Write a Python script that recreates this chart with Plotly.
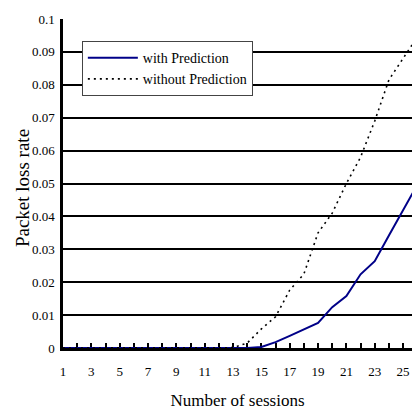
import plotly.graph_objects as go

sessions = list(range(1, 27))
with_prediction = [0, 0, 0, 0, 0, 0, 0, 0, 0, 0, 0, 0, 0, 0, 0.0003, 0.0018, 0.0037,
                   0.0057, 0.0076, 0.0124, 0.0158, 0.0224, 0.0264, 0.0342, 0.0419, 0.0496]
without_prediction = [0, 0, 0, 0, 0, 0, 0, 0, 0, 0, 0, 0, 0.0001, 0.0015, 0.0058, 0.0095,
                      0.0176, 0.0225, 0.0350, 0.0410, 0.0500, 0.0580, 0.0690, 0.0815, 0.0880, 0.0945]
x_tick_vals = list(range(1, 27))
x_tick_text = [str(v) if v % 2 == 1 else "" for v in x_tick_vals]
y_tick_vals = [0, 0.01, 0.02, 0.03, 0.04, 0.05, 0.06, 0.07, 0.08, 0.09, 0.1]
y_tick_text = ["0", "0.01", "0.02", "0.03", "0.04", "0.05", "0.06", "0.07", "0.08", "0.09", "0.1"]

FONT = "Liberation Serif, Times New Roman, serif"

fig = go.Figure()
fig.add_trace(go.Scatter(x=sessions, y=with_prediction, mode="lines", name="with Prediction",
                         legendgroup="a",
                         line=dict(color="#000088", width=2)))
fig.add_trace(go.Scatter(x=sessions, y=without_prediction, mode="lines", name="without Prediction",
                         legendgroup="b",
                         line=dict(color="#000000", width=1.6, dash="2px,4px")))

fig.update_layout(
    width=412, height=417,
    margin=dict(l=63, r=0, t=19, b=69, autoexpand=False),
    paper_bgcolor="white", plot_bgcolor="white",
    font=dict(family=FONT, color="black", size=12),
    showlegend=True,
    legend=dict(x=0.054, y=0.933, xanchor="left", yanchor="top",
                bgcolor="white", bordercolor="#444444", borderwidth=1,
                font=dict(family=FONT, size=14), itemwidth=50,
                tracegroupgap=0),
    xaxis=dict(range=[1, 25.63], tickmode="array", tickvals=x_tick_vals, ticktext=x_tick_text,
               ticks="inside", ticklen=5, tickwidth=1.5, tickcolor="black",
               showline=True, linecolor="black", linewidth=2.5, showgrid=False,
               zeroline=False, ticklabelstandoff=10, layer="below traces", automargin=False,
               tickfont=dict(family=FONT, size=13),
               title=dict(text="Number of sessions", font=dict(family=FONT, size=17), standoff=16)),
    yaxis=dict(range=[0, 0.1], tickmode="array", tickvals=y_tick_vals, ticktext=y_tick_text,
               ticks="", showline=True, linecolor="black", linewidth=2.5,
               showgrid=True, gridcolor="black", gridwidth=1.6, zeroline=False,
               layer="below traces", ticklabelstandoff=3, automargin=False,
               tickfont=dict(family=FONT, size=13)),
    annotations=[dict(text="Packet loss rate", xref="paper", yref="paper",
                      x=-0.1175, y=0.486, xanchor="center", yanchor="middle",
                      textangle=-90, showarrow=False,
                      font=dict(family=FONT, size=19, color="black"))],
)

fig.write_html("out.html", config={"displayModeBar": False},
               post_script="document.body.style.margin='0';document.body.style.overflow='hidden';")
